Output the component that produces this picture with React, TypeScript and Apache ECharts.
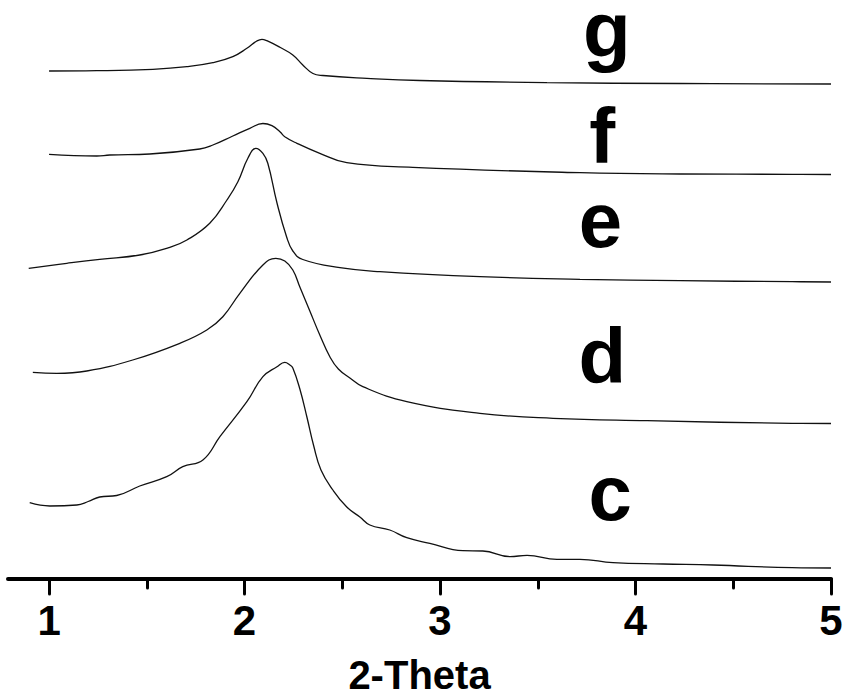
import React, { useEffect, useRef } from "react";
import * as echarts from "echarts";

// 2-Theta vs stacked intensity (a.u., offset curves)
const curveC: [number, number][] = [
  [0.901, 76.3], [1.004, 73], [1.142, 74], [1.2, 77.5], [1.259, 82], [1.346, 83.5], [1.464, 93],
  [1.602, 102.3], [1.684, 112.3], [1.787, 119], [1.874, 142.3], [2.012, 177.3],
  [2.094, 202.3], [2.166, 212.3], [2.206, 216.7], [2.232, 214], [2.247, 211],
  [2.283, 190], [2.319, 162], [2.354, 133], [2.391, 109], [2.452, 89], [2.523, 72],
  [2.59, 62], [2.641, 54], [2.743, 49], [2.83, 41.3], [2.948, 35.7], [3.117, 28.3],
  [3.219, 28], [3.358, 22.3], [3.445, 23.7], [3.598, 19.7], [3.716, 19.7],
  [3.885, 16.3], [4.141, 15], [4.397, 14], [4.801, 11.3], [5.0, 11],
];
const curveD: [number, number][] = [
  [0.917, 206.7], [1.039, 205.7], [1.193, 208], [1.428, 219], [1.669, 235.7],
  [1.807, 249], [1.889, 262.3], [1.976, 285.7], [2.094, 314], [2.16, 320.7],
  [2.206, 318], [2.247, 309], [2.283, 292], [2.334, 268], [2.385, 244], [2.437, 222],
  [2.48, 210], [2.539, 201], [2.605, 192.3], [2.83, 177.3], [3.204, 165.7],
  [3.578, 160.7], [4.059, 158.3], [4.801, 155.7], [5.0, 155.5],
];
const curveE: [number, number][] = [
  [0.896, 310.7], [1.091, 315.7], [1.259, 319.7], [1.464, 324], [1.618, 331.7],
  [1.705, 339], [1.822, 355.7], [1.91, 379], [1.966, 397.3], [2.017, 420.7],
  [2.058, 430.7], [2.094, 425.7], [2.119, 415.7], [2.166, 376], [2.215, 342.3],
  [2.247, 328], [2.298, 319.5], [2.488, 311.3], [2.692, 307.3], [3.204, 302.3],
  [3.716, 299.7], [4.228, 298.3], [4.801, 297.3], [5.0, 297],
];
const curveF: [number, number][] = [
  [1.0, 424.7], [1.244, 423], [1.311, 424], [1.515, 425], [1.771, 430], [1.838, 434],
  [1.94, 443], [2.027, 450.7], [2.094, 455.5], [2.14, 453.3], [2.181, 447.3],
  [2.206, 442.3], [2.268, 435.7], [2.385, 425.7], [2.523, 416.3], [2.861, 411.7],
  [3.716, 406.3], [4.228, 405], [4.801, 404.7], [5.0, 404.5],
];
const curveG: [number, number][] = [
  [1.0, 508], [1.244, 508.3], [1.531, 509.7], [1.705, 512.3], [1.838, 516.3],
  [1.94, 522.3], [2.012, 530.7], [2.063, 538], [2.089, 539.7], [2.114, 538.3],
  [2.181, 531.7], [2.247, 524], [2.298, 514], [2.35, 505.5], [2.401, 503.5],
  [2.626, 500.7], [2.897, 498.5], [3.547, 496.3], [4.228, 495.5], [5.0, 495],
];

const curveNames = ["c", "d", "e", "f", "g"];
const curves = [curveC, curveD, curveE, curveF, curveG];
const labelX = [3.87, 3.83, 3.82, 3.83, 3.853];
const labelY = [86, 223, 359, 443, 549];

const majorTicks = [1, 2, 3, 4, 5];
const minorTicks = [1.5, 2.5, 3.5, 4.5];
const xMin = 0.79;
const xMax = 5;

const FONT = '"Liberation Sans", Arial, Helvetica, sans-serif';

export default function App() {
  const ref = useRef<HTMLDivElement>(null);
  useEffect(() => {
    document.body.style.margin = "0";
    const chart = echarts.init(ref.current!, null, { renderer: "svg" });
    const lineSeries = curves.map((data, i) => ({
      name: curveNames[i],
      type: "line",
      data,
      showSymbol: false,
      smooth: 0.45,
      lineStyle: { color: "#111", width: 1.3 },
      xAxisIndex: 0,
      yAxisIndex: 0,
      silent: true,
    }));
    chart.setOption({
      animation: false,
      backgroundColor: "#fff",
      grid: { left: 8, right: 12, top: 0, bottom: 117, containLabel: false, outerBoundsMode: "none" },
      xAxis: [
        {
          type: "value",
          min: xMin,
          max: xMax,
          name: "2-Theta",
          nameLocation: "middle",
          nameGap: 76,
          nameTextStyle: { fontFamily: FONT, fontWeight: "bold", fontSize: 40, color: "#000", lineHeight: 40 },
          axisLine: { show: true, lineStyle: { color: "#000", width: 4, cap: "round" } },
          axisTick: { show: true, customValues: majorTicks, length: 15, lineStyle: { color: "#000", width: 3, cap: "round" } },
          axisLabel: {
            show: true,
            customValues: majorTicks,
            margin: 20,
            fontFamily: FONT,
            fontWeight: "bold",
            fontSize: 42,
            lineHeight: 42,
            color: "#000",
          },
          splitLine: { show: false },
        },
        {
          type: "value",
          min: xMin,
          max: xMax,
          position: "bottom",
          axisLine: { show: false },
          axisTick: { show: true, customValues: minorTicks, length: 9, lineStyle: { color: "#000", width: 3, cap: "round" } },
          axisLabel: { show: false },
          splitLine: { show: false },
        },
      ],
      yAxis: { type: "value", min: 0, max: 579, show: false, splitLine: { show: false } },
      series: [
        ...lineSeries,
        {
          type: "scatter",
          symbolSize: 0,
          silent: true,
          itemStyle: { opacity: 1, color: "#000" },
          data: curveNames.map((n, i) => [labelX[i], labelY[i], n]),
          label: {
            show: true,
            position: "inside",
            formatter: (p: any) => p.value[2],
            fontFamily: FONT,
            fontWeight: "bold",
            fontSize: 78,
            lineHeight: 56,
            color: "#000",
            opacity: 1,
          },
        },
      ],
    });
    return () => chart.dispose();
  }, []);
  return <div ref={ref} style={{ width: 843, height: 696 }} />;
}
